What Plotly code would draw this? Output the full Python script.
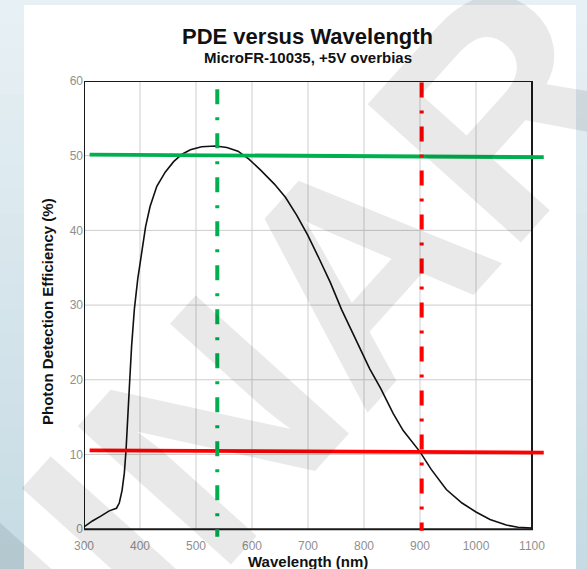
import plotly.graph_objects as go

# Measured photon detection efficiency curve
wavelength_nm = [300, 315, 330, 345, 358, 363, 368, 372, 375, 378,
                 381, 385, 390, 396, 402, 410, 418, 430, 445, 460,
                 475, 490, 510, 535, 555, 575, 595, 615, 640, 660,
                 680, 700, 720, 740, 760, 785, 810, 830, 852, 870,
                 885, 900, 920, 947, 975, 1000, 1025, 1054, 1075, 1090,
                 1100]
pde_pct = [0.3, 1.1, 1.75, 2.45, 2.8, 3.5, 5.2, 7.5, 10.5, 14.0,
           19.0, 24.5, 29.5, 33.5, 36.5, 40.5, 43.2, 45.9, 47.8, 49.2,
           50.2, 50.8, 51.2, 51.3, 51.1, 50.6, 49.5, 48.1, 46.2, 44.4,
           42.0, 39.3, 36.2, 33.0, 29.4, 25.5, 21.5, 18.8, 15.5, 13.2,
           11.7, 10.35, 8.0, 5.3, 3.5, 2.3, 1.3, 0.55, 0.25, 0.2,
           0.15]

x_ticks = [300, 400, 500, 600, 700, 800, 900, 1000, 1100]
y_ticks = [0, 10, 20, 30, 40, 50, 60]

# Marker lines: peak (green) and 900 nm (red)
green_wl_nm = 538
red_wl_nm = 903
level_ends_nm = [310, 1121]
green_level_pct = [50.15, 49.8]
red_level_pct = [10.55, 10.25]
green_drop_pct = [58.9, -1.0]
red_drop_pct = [59.8, -0.2]

W, H = 587, 569
M = dict(l=84, r=41, t=81, b=32)
PW = W - M["l"] - M["r"]
PH = H - M["t"] - M["b"]


def px(x):
    return (x - M["l"]) / PW


def py(y):
    return 1 - (y - M["t"]) / PH


FONT = "Liberation Sans"
GREEN = "#00b050"
RED = "#ff0000"
DASHDOT = "15px,13px,3px,13px"

fig = go.Figure()

fig.add_trace(go.Scatter(x=wavelength_nm, y=pde_pct, mode="lines",
                         line=dict(color="#111111", width=1.6),
                         hoverinfo="skip"))
fig.add_trace(go.Scatter(x=level_ends_nm, y=green_level_pct, mode="lines",
                         line=dict(color=GREEN, width=3.8), hoverinfo="skip"))
fig.add_trace(go.Scatter(x=level_ends_nm, y=red_level_pct, mode="lines",
                         line=dict(color=RED, width=3.8), hoverinfo="skip"))
fig.add_trace(go.Scatter(x=[green_wl_nm, green_wl_nm], y=green_drop_pct, mode="lines",
                         line=dict(color=GREEN, width=4, dash=DASHDOT), hoverinfo="skip"))
fig.add_trace(go.Scatter(x=[red_wl_nm, red_wl_nm], y=red_drop_pct, mode="lines",
                         line=dict(color=RED, width=4, dash=DASHDOT), hoverinfo="skip"))

shapes = []
# slide backdrop: vertical blue gradient with a white panel
top_rgb = (231, 240, 244)
bot_rgb = (198, 219, 228)
n_bands = 24
for i in range(n_bands):
    f = i / (n_bands - 1)
    c = tuple(round(a + (b - a) * f) for a, b in zip(top_rgb, bot_rgb))
    y0 = H * i / n_bands
    y1 = H * (i + 1) / n_bands + 1
    shapes.append(dict(type="rect", xref="paper", yref="paper", layer="below",
                       x0=px(0), x1=px(W), y0=py(y1), y1=py(y0),
                       fillcolor="rgb(%d,%d,%d)" % c, line=dict(width=0)))
shapes.append(dict(type="rect", xref="paper", yref="paper", layer="below",
                   x0=px(24), x1=px(576), y0=py(H + 2), y1=py(5),
                   fillcolor="white", line=dict(width=0)))

# grid
for xv in x_ticks[1:-1]:
    shapes.append(dict(type="line", xref="x", yref="y", layer="below",
                       x0=xv, x1=xv, y0=y_ticks[0], y1=y_ticks[-1],
                       line=dict(color="#cdcdcd", width=1)))
for yv in y_ticks[1:-1]:
    shapes.append(dict(type="line", xref="x", yref="y", layer="below",
                       x0=x_ticks[0], x1=x_ticks[-1], y0=yv, y1=yv,
                       line=dict(color="#cdcdcd", width=1)))
# frame
shapes.append(dict(type="rect", xref="x", yref="y", layer="below",
                   x0=x_ticks[0], x1=x_ticks[-1], y0=y_ticks[0], y1=y_ticks[-1],
                   line=dict(color="#1a1a1a", width=2)))

annotations = [
    dict(text="PRELIMINARY", xref="paper", yref="paper", x=px(14), y=py(650),
         xanchor="center", yanchor="middle", showarrow=False, textangle=-48,
         font=dict(family=FONT, size=300, color="rgba(0,0,0,0.085)", weight="bold")),
    dict(text="PDE versus Wavelength", xref="paper", yref="paper", x=px(307.5), y=py(36),
         xanchor="center", yanchor="middle", showarrow=False,
         font=dict(family=FONT, size=22, color="#111111", weight="bold")),
    dict(text="MicroFR-10035, +5V overbias", xref="paper", yref="paper", x=px(307.5), y=py(58),
         xanchor="center", yanchor="middle", showarrow=False,
         font=dict(family=FONT, size=15, color="#111111", weight="bold")),
    dict(text="Wavelength (nm)", xref="paper", yref="paper", x=px(308), y=py(561),
         xanchor="center", yanchor="middle", showarrow=False,
         font=dict(family=FONT, size=15, color="#111111", weight="bold")),
    dict(text="Photon Detection Efficiency (%)", xref="paper", yref="paper", x=px(47), y=py(312),
         xanchor="center", yanchor="middle", showarrow=False, textangle=-90,
         font=dict(family=FONT, size=15, color="#111111", weight="bold")),
]

fig.update_layout(
    width=W, height=H, margin=M,
    paper_bgcolor="#dbe8ee", plot_bgcolor="rgba(0,0,0,0)",
    showlegend=False, hovermode=False,
    shapes=shapes, annotations=annotations,
    xaxis=dict(range=[300, 1125], tickvals=x_ticks, ticks="", showgrid=False,
               zeroline=False, showline=False, fixedrange=True,
               tickfont=dict(family=FONT, size=12, color="#8f8f8f")),
    yaxis=dict(range=[-1.05, 60], tickvals=y_ticks, ticks="", showgrid=False,
               zeroline=False, showline=False, fixedrange=True,
               tickfont=dict(family=FONT, size=12, color="#8f8f8f")),
)

fig.write_html("out.html", config={"displayModeBar": False})
